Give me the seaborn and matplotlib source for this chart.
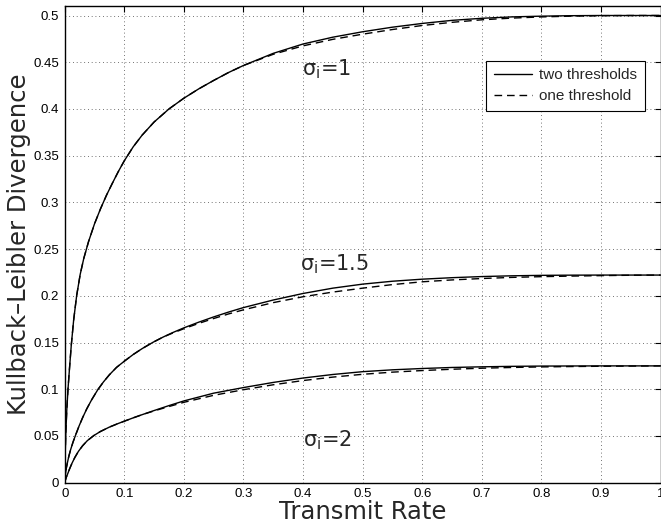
import matplotlib
matplotlib.use("Agg")
import matplotlib.pyplot as plt
import pandas as pd
import seaborn as sns

# ---- data ----
rate_s1_two = [0, 0.0005, 0.001, 0.002, 0.0035, 0.0055, 0.008, 0.011, 0.015, 0.02, 0.026, 0.032, 0.04,
               0.05, 0.06, 0.07, 0.08, 0.09, 0.1, 0.115, 0.13, 0.15, 0.175, 0.2, 0.225, 0.25, 0.275, 0.3,
               0.35, 0.4, 0.45, 0.5, 0.55, 0.6, 0.65, 0.7, 0.75, 0.8, 0.85, 0.9, 1.0]
kl_s1_two = [0, 0.02, 0.035, 0.056, 0.078, 0.1, 0.122, 0.147, 0.174, 0.2, 0.223, 0.24, 0.258,
             0.277, 0.293, 0.3075, 0.3205, 0.333, 0.3445, 0.3595, 0.372, 0.386, 0.4, 0.4115, 0.4215, 0.4305, 0.439, 0.4465,
             0.4595, 0.4695, 0.4768, 0.4826, 0.4875, 0.4915, 0.4948, 0.497, 0.4985, 0.4993, 0.4998, 0.5, 0.5]
rate_s1_one = [0, 0.0005, 0.001, 0.002, 0.0035, 0.0055, 0.008, 0.011, 0.015, 0.02, 0.026, 0.032, 0.04,
               0.05, 0.06, 0.07, 0.08, 0.09, 0.1, 0.115, 0.13, 0.15, 0.175, 0.2, 0.225, 0.25, 0.275, 0.3,
               0.35, 0.4, 0.45, 0.5, 0.55, 0.6, 0.65, 0.7, 0.75, 0.8, 0.85, 0.9, 0.95, 1.0]
kl_s1_one = [0, 0.02, 0.035, 0.056, 0.078, 0.1, 0.122, 0.147, 0.174, 0.2, 0.223, 0.24, 0.258,
             0.277, 0.293, 0.3075, 0.3205, 0.333, 0.3445, 0.3595, 0.372, 0.386, 0.4, 0.4115, 0.4215, 0.4305, 0.439, 0.4465,
             0.4585, 0.4675, 0.4745, 0.48, 0.485, 0.4893, 0.4927, 0.4954, 0.4972, 0.4985, 0.4993, 0.4998, 0.5, 0.5]

rate_s15_two = [0, 0.001, 0.0025, 0.0044, 0.007, 0.01, 0.014, 0.018, 0.024, 0.03, 0.037, 0.045, 0.0555,
                0.065, 0.075, 0.087, 0.1, 0.115, 0.13, 0.148, 0.165, 0.18, 0.2, 0.225, 0.25, 0.275, 0.3,
                0.35, 0.4, 0.45, 0.5, 0.55, 0.6, 0.65, 0.7, 0.75, 0.8, 0.85, 0.9, 1.0]
kl_s15_two = [0, 0.008, 0.015, 0.021, 0.0285, 0.0355, 0.0435, 0.0505, 0.0605, 0.0695, 0.079, 0.0885, 0.0995,
              0.1078, 0.1155, 0.1234, 0.13, 0.1372, 0.1435, 0.1502, 0.1558, 0.1603, 0.1657, 0.1718, 0.1774, 0.1826, 0.1874,
              0.1955, 0.2025, 0.2082, 0.2125, 0.2156, 0.2178, 0.2194, 0.2206, 0.2214, 0.2219, 0.2221, 0.2222, 0.2222]
rate_s15_one = [0, 0.001, 0.0025, 0.0044, 0.007, 0.01, 0.014, 0.018, 0.024, 0.03, 0.037, 0.045, 0.0555,
                0.065, 0.075, 0.087, 0.1, 0.115, 0.13, 0.148, 0.165, 0.18, 0.2, 0.225, 0.25, 0.275, 0.3,
                0.35, 0.4, 0.45, 0.5, 0.55, 0.6, 0.65, 0.7, 0.75, 0.8, 0.85, 0.9, 0.95, 1.0]
kl_s15_one = [0, 0.008, 0.015, 0.021, 0.0285, 0.0355, 0.0435, 0.0505, 0.0605, 0.0695, 0.079, 0.0885, 0.0995,
              0.1078, 0.1155, 0.1234, 0.13, 0.1372, 0.1435, 0.1502, 0.1558, 0.1598, 0.1648, 0.1705, 0.1757, 0.1806, 0.185,
              0.1927, 0.199, 0.204, 0.2082, 0.212, 0.215, 0.217, 0.2185, 0.2197, 0.2205, 0.2211, 0.2216, 0.222, 0.2222]

rate_s2_two = [0, 0.001, 0.0025, 0.005, 0.008, 0.012, 0.017, 0.023, 0.03, 0.038, 0.049, 0.06, 0.075,
               0.09, 0.1, 0.115, 0.13, 0.15, 0.175, 0.2, 0.25, 0.3, 0.35, 0.4, 0.45, 0.5, 0.55, 0.6,
               0.65, 0.7, 0.75, 0.8, 0.9, 1.0]
kl_s2_two = [0, 0.0025, 0.0055, 0.0095, 0.0145, 0.0205, 0.027, 0.0335, 0.0395, 0.045, 0.0505, 0.0548, 0.0595,
             0.0634, 0.0658, 0.0694, 0.0728, 0.0772, 0.0825, 0.0875, 0.0958, 0.1018, 0.1073, 0.112, 0.1158, 0.1188, 0.1208, 0.1222,
             0.1233, 0.124, 0.1245, 0.1248, 0.125, 0.125]
rate_s2_one = [0, 0.001, 0.0025, 0.005, 0.008, 0.012, 0.017, 0.023, 0.03, 0.038, 0.049, 0.06, 0.075,
               0.09, 0.1, 0.115, 0.13, 0.15, 0.175, 0.2, 0.25, 0.3, 0.35, 0.4, 0.45, 0.5, 0.55, 0.6,
               0.65, 0.7, 0.75, 0.8, 0.85, 0.9, 0.95, 1.0]
kl_s2_one = [0, 0.0025, 0.0055, 0.0095, 0.0145, 0.0205, 0.027, 0.0335, 0.0395, 0.045, 0.0505, 0.0548, 0.0595,
             0.0634, 0.0658, 0.0694, 0.0728, 0.0768, 0.0815, 0.086, 0.0935, 0.0995, 0.1048, 0.1093, 0.113, 0.116, 0.1183, 0.12,
             0.1214, 0.1225, 0.1233, 0.1239, 0.1243, 0.1246, 0.1248, 0.125]

method_labels = ["two thresholds", "one threshold"]
sigma_texts = [r"$\sigma_i$=1", r"$\sigma_i$=1.5", r"$\sigma_i$=2"]
x_ticks = [0, 0.1, 0.2, 0.3, 0.4, 0.5, 0.6, 0.7, 0.8, 0.9, 1.0]
x_tick_labels = ["0", "0.1", "0.2", "0.3", "0.4", "0.5", "0.6", "0.7", "0.8", "0.9", "1"]
y_ticks = [0, 0.05, 0.1, 0.15, 0.2, 0.25, 0.3, 0.35, 0.4, 0.45, 0.5]
y_tick_labels = ["0", "0.05", "0.1", "0.15", "0.2", "0.25", "0.3", "0.35", "0.4", "0.45", "0.5"]

series = [
    ("1", "two thresholds", rate_s1_two, kl_s1_two),
    ("1", "one threshold", rate_s1_one, kl_s1_one),
    ("1.5", "two thresholds", rate_s15_two, kl_s15_two),
    ("1.5", "one threshold", rate_s15_one, kl_s15_one),
    ("2", "two thresholds", rate_s2_two, kl_s2_two),
    ("2", "one threshold", rate_s2_one, kl_s2_one),
]
rows = []
for sig, meth, xs, ys in series:
    for xv, yv in zip(xs, ys):
        rows.append({"rate": xv, "kl": yv, "sigma": sig, "method": meth})
df = pd.DataFrame(rows)

# ---- style ----
sns.set_style("white")
plt.rcParams["font.family"] = ["Liberation Sans", "DejaVu Sans"]
plt.rcParams["mathtext.fontset"] = "custom"
plt.rcParams["mathtext.rm"] = "DejaVu Sans"
plt.rcParams["mathtext.it"] = "DejaVu Sans"
plt.rcParams["mathtext.default"] = "regular"

fig = plt.figure(figsize=(6.61, 5.27), dpi=100)
ax = fig.add_axes([0.0979, 0.0841, 0.9014, 0.9051])

dash_map = {"two thresholds": "", "one threshold": (5.5, 3.5)}
sns.lineplot(data=df, x="rate", y="kl", units="sigma", style="method",
             style_order=method_labels, dashes=dash_map, estimator=None,
             sort=True, color="black", linewidth=1.0, ax=ax, legend=True)

ax.set_xlim(0, 1.0)
ax.set_ylim(0, 0.5105)
ax.set_xticks(x_ticks)
ax.set_xticklabels(x_tick_labels)
ax.set_yticks(y_ticks)
ax.set_yticklabels(y_tick_labels)
ax.tick_params(direction="in", length=4, width=0.8, top=True, right=True,
               labelsize=9.5, colors="black", pad=4)
for sp in ax.spines.values():
    sp.set_color("black")
    sp.set_linewidth(1.0)
ax.grid(True, color="#444444", linestyle=(0, (1, 3.5)), linewidth=0.6)

label_font = {"family": ["DejaVu Sans"], "size": 17.5}
ax.set_xlabel("Transmit Rate", fontdict=label_font)
ax.set_ylabel("Kullback\u2013Leibler Divergence", fontdict=label_font)
ax.xaxis.set_label_coords(0.5, -0.036)
ax.yaxis.set_label_coords(-0.057, 0.5)

# curve annotations
ax.text(0.440, 0.442, sigma_texts[0], fontsize=15, ha="center", va="center", family=["DejaVu Sans"])
ax.text(0.452, 0.2335, sigma_texts[1], fontsize=15, ha="center", va="center", family=["DejaVu Sans"])
ax.text(0.440, 0.0457, sigma_texts[2], fontsize=15, ha="center", va="center", family=["DejaVu Sans"])

handles, labels = ax.get_legend_handles_labels()
keep = [(h, l) for h, l in zip(handles, labels) if l in method_labels]
leg = ax.legend([h for h, _ in keep], [l for _, l in keep], loc="upper right",
                bbox_to_anchor=(0.974, 0.8847), borderaxespad=0, fontsize=11,
                frameon=True, fancybox=False, edgecolor="black", framealpha=1,
                handlelength=2.5, handletextpad=0.5, borderpad=0.5, labelspacing=0.45)
leg.get_frame().set_linewidth(0.8)

fig.savefig("out.png", dpi=100)
